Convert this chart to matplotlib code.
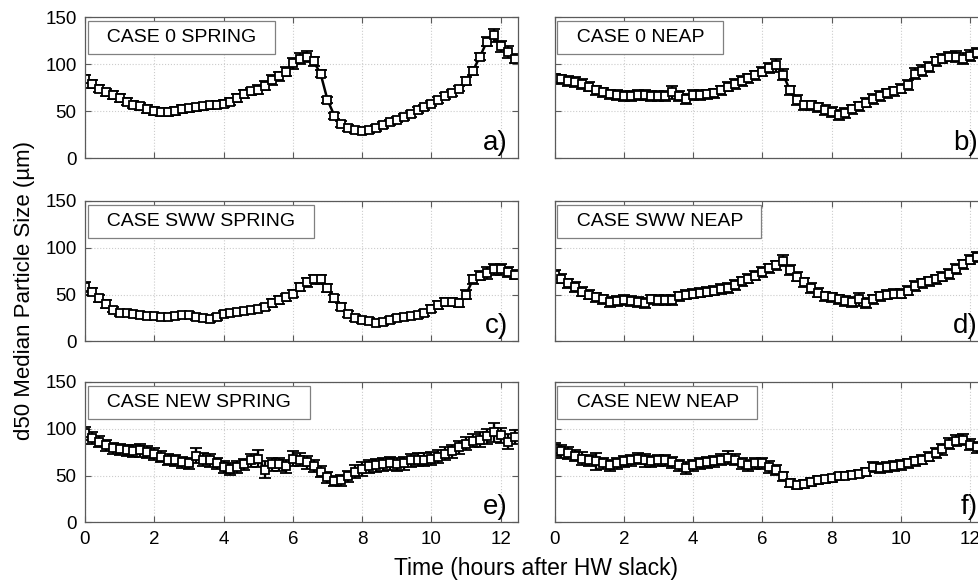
import numpy as np
import matplotlib
matplotlib.use("Agg")
import matplotlib.pyplot as plt
from matplotlib.transforms import offset_copy

plt.rcParams['font.family'] = ['Liberation Sans', 'DejaVu Sans']
plt.rcParams['font.size'] = 13

# sampling times (hours after HW slack)
hours = [0.0, 0.2, 0.4, 0.6, 0.8, 1.0, 1.2, 1.4, 1.6, 1.8,
         2.0, 2.2, 2.4, 2.6, 2.8, 3.0, 3.2, 3.4, 3.6, 3.8,
         4.0, 4.2, 4.4, 4.6, 4.8, 5.0, 5.2, 5.4, 5.6, 5.8,
         6.0, 6.2, 6.4, 6.6, 6.8, 7.0, 7.2, 7.4, 7.6, 7.8,
         8.0, 8.2, 8.4, 8.6, 8.8, 9.0, 9.2, 9.4, 9.6, 9.8,
         10.0, 10.2, 10.4, 10.6, 10.8, 11.0, 11.2, 11.4, 11.6, 11.8,
         12.0, 12.2, 12.4]

# d50 (um) per case
case0_spring = [84, 79, 74, 70, 67, 64, 60, 57, 55, 52,
                50, 49, 49, 50, 52, 53, 54, 55, 56, 57,
                58, 60, 64, 68, 71, 73, 77, 83, 87, 92,
                101, 106, 108, 103, 90, 62, 45, 36, 32, 30,
                29, 30, 32, 35, 38, 41, 44, 47, 51, 54,
                58, 62, 66, 69, 74, 82, 93, 108, 124, 131,
                119, 113, 106]
case0_neap = [85, 84, 82, 81, 79, 76, 72, 70, 68, 67,
              66, 66, 67, 67, 66, 66, 66, 70, 66, 63,
              67, 67, 68, 69, 72, 76, 79, 82, 85, 88,
              92, 96, 99, 89, 72, 62, 56, 56, 54, 51,
              49, 46, 48, 52, 55, 59, 63, 66, 69, 71,
              74, 78, 90, 93, 97, 103, 106, 108, 108, 106,
              109, 112, 112]
sww_spring = [58, 53, 46, 40, 34, 30, 30, 29, 28, 27,
              27, 26, 26, 27, 28, 28, 26, 25, 24, 26,
              29, 30, 31, 32, 33, 35, 37, 41, 44, 47,
              51, 58, 63, 66, 66, 57, 46, 37, 29, 25,
              23, 22, 20, 21, 23, 25, 26, 27, 28, 30,
              35, 39, 42, 42, 41, 50, 66, 70, 73, 77,
              77, 74, 71]
sww_neap = [71, 67, 62, 58, 53, 50, 47, 45, 42, 43,
            44, 43, 42, 41, 45, 44, 44, 44, 48, 50,
            51, 52, 53, 54, 56, 57, 60, 64, 67, 70,
            74, 78, 81, 86, 76, 69, 63, 57, 52, 48,
            47, 45, 43, 42, 45, 41, 45, 48, 50, 51,
            51, 54, 59, 62, 64, 66, 69, 72, 77, 82,
            87, 90, 92]
new_spring = [95, 90, 86, 82, 79, 78, 77, 76, 77, 75,
              73, 70, 67, 66, 64, 63, 71, 67, 66, 63,
              59, 57, 59, 62, 66, 68, 56, 62, 62, 60,
              68, 67, 64, 60, 54, 48, 44, 45, 49, 54,
              57, 60, 61, 62, 63, 62, 63, 66, 67, 67,
              68, 70, 73, 76, 80, 84, 87, 88, 92, 96,
              93, 86, 91]
new_neap = [78, 76, 74, 71, 68, 66, 65, 63, 61, 63,
            65, 66, 68, 66, 65, 66, 66, 64, 61, 58,
            61, 63, 64, 65, 67, 69, 67, 63, 61, 63,
            63, 59, 56, 49, 42, 40, 41, 43, 45, 46,
            47, 49, 50, 51, 52, 54, 59, 58, 59, 60,
            61, 63, 65, 67, 70, 74, 78, 84, 87, 88,
            83, 80, 78]

# error bar half-widths (um)
case0_spring_err = [4, 4, 4, 4, 4, 4, 4, 4, 4, 4,
                    4, 4, 4, 4, 4, 4, 4, 4, 4, 4,
                    4, 4, 4, 4, 4, 5, 5, 5, 5, 5,
                    6, 6, 6, 5, 4, 3, 3, 3, 3, 3,
                    3, 3, 3, 3, 3, 3, 3, 3, 3, 3,
                    3, 3, 3, 3, 3, 4, 4, 4, 5, 7,
                    6, 6, 5]
case0_neap_err = [5, 5, 5, 5, 5, 5, 5, 5, 5, 5,
                  5, 5, 5, 5, 5, 5, 5, 7, 5, 5,
                  5, 5, 5, 5, 5, 5, 5, 5, 5, 5,
                  5, 5, 7, 6, 5, 5, 5, 5, 5, 5,
                  5, 5, 5, 5, 5, 5, 5, 5, 5, 5,
                  5, 5, 6, 6, 5, 5, 5, 5, 6, 6,
                  6, 5, 5]
sww_spring_err = [5, 4, 4, 4, 3, 3, 3, 3, 3, 3,
                  3, 3, 3, 3, 3, 3, 3, 3, 3, 3,
                  3, 3, 3, 3, 3, 3, 3, 4, 4, 4,
                  4, 4, 5, 5, 5, 4, 4, 4, 3, 3,
                  3, 3, 3, 3, 3, 3, 3, 3, 3, 3,
                  4, 4, 4, 4, 4, 5, 5, 5, 6, 6,
                  6, 5, 5]
sww_neap_err = [5, 5, 5, 5, 5, 5, 5, 5, 5, 5,
                5, 5, 5, 5, 5, 5, 5, 5, 5, 5,
                5, 5, 5, 5, 5, 5, 5, 5, 5, 5,
                5, 5, 5, 6, 5, 5, 5, 5, 5, 5,
                5, 5, 5, 5, 7, 5, 5, 5, 5, 5,
                5, 5, 5, 5, 5, 5, 5, 5, 5, 5,
                5, 5, 5]
new_spring_err = [7, 6, 6, 6, 6, 6, 6, 6, 7, 6,
                  6, 6, 6, 6, 6, 6, 8, 7, 7, 6,
                  6, 6, 6, 6, 7, 9, 9, 7, 7, 7,
                  8, 7, 7, 6, 6, 6, 5, 6, 6, 7,
                  7, 7, 7, 7, 7, 7, 7, 7, 7, 7,
                  7, 7, 7, 7, 7, 7, 7, 8, 8, 10,
                  8, 8, 7]
new_neap_err = [7, 7, 6, 6, 7, 6, 9, 6, 6, 6,
                6, 6, 6, 7, 6, 6, 6, 6, 6, 6,
                6, 6, 6, 6, 6, 7, 6, 6, 6, 6,
                6, 6, 5, 5, 4, 4, 4, 4, 4, 4,
                4, 4, 4, 4, 4, 4, 5, 5, 5, 5,
                5, 5, 5, 5, 5, 5, 6, 6, 6, 6,
                6, 6, 6]

titles = ['CASE 0 SPRING', 'CASE 0 NEAP', 'CASE SWW SPRING',
          'CASE SWW NEAP', 'CASE NEW SPRING', 'CASE NEW NEAP']
letters = ['a)', 'b)', 'c)', 'd)', 'e)', 'f)']
series = [case0_spring, case0_neap, sww_spring, sww_neap, new_spring, new_neap]
errors = [case0_spring_err, case0_neap_err, sww_spring_err, sww_neap_err,
          new_spring_err, new_neap_err]

W, H = 979, 581
fig = plt.figure(figsize=(W / 100, H / 100), dpi=100)

lefts = [85, 554.5]
tops = [17.3, 200.7, 381.7]
aw, ah = 433, 140.7

for i in range(6):
    row, col = i // 2, i % 2
    ax = fig.add_axes([lefts[col] / W, 1 - (tops[row] + ah) / H, aw / W, ah / H])
    ax.errorbar(hours, series[i], yerr=errors[i], color='black', lw=1.8,
                marker='s', ms=5.5, mfc='white', mec='black', mew=1.3,
                ecolor='black', elinewidth=1.7, capsize=4, capthick=1.7)
    ax.set_xlim(0, 12.5)
    ax.set_ylim(0, 150)
    ax.set_xticks([0, 2, 4, 6, 8, 10, 12])
    ax.set_yticks([0, 50, 100, 150])
    ax.grid(True, linestyle=':', color='#cccccc', lw=0.8)
    ax.set_axisbelow(True)
    for s in ax.spines.values():
        s.set_color('#5a5a5a')
        s.set_linewidth(0.9)
    ax.tick_params(direction='in', length=4, width=0.8, color='#5a5a5a',
                   top=True, right=True, labelsize=13.5, pad=6)
    if col == 1:
        ax.tick_params(labelleft=False)
    if row < 2:
        ax.tick_params(labelbottom=False)

    # case label box, top-left
    tr = offset_copy(ax.transAxes, fig=fig, x=11, y=-12, units='dots')
    ax.text(0, 1, '  ' + titles[i] + '  ', transform=tr, ha='left', va='top',
            fontsize=14,
            bbox=dict(boxstyle='square,pad=0.42', fc='white', ec='#808080', lw=0.9))
    tr2 = offset_copy(ax.transAxes, fig=fig, x=-10, y=8, units='dots')
    ax.text(1, 0, letters[i], transform=tr2, ha='right', va='baseline', fontsize=20)

fig.text(25 / W, 0.5, 'd50 Median Particle Size (µm)', rotation=90,
         ha='center', va='center', fontsize=16)
fig.text(536 / W, 1 - 575 / H, 'Time (hours after HW slack)',
         ha='center', va='baseline', fontsize=16.5)

fig.savefig('out.png', dpi=100)
